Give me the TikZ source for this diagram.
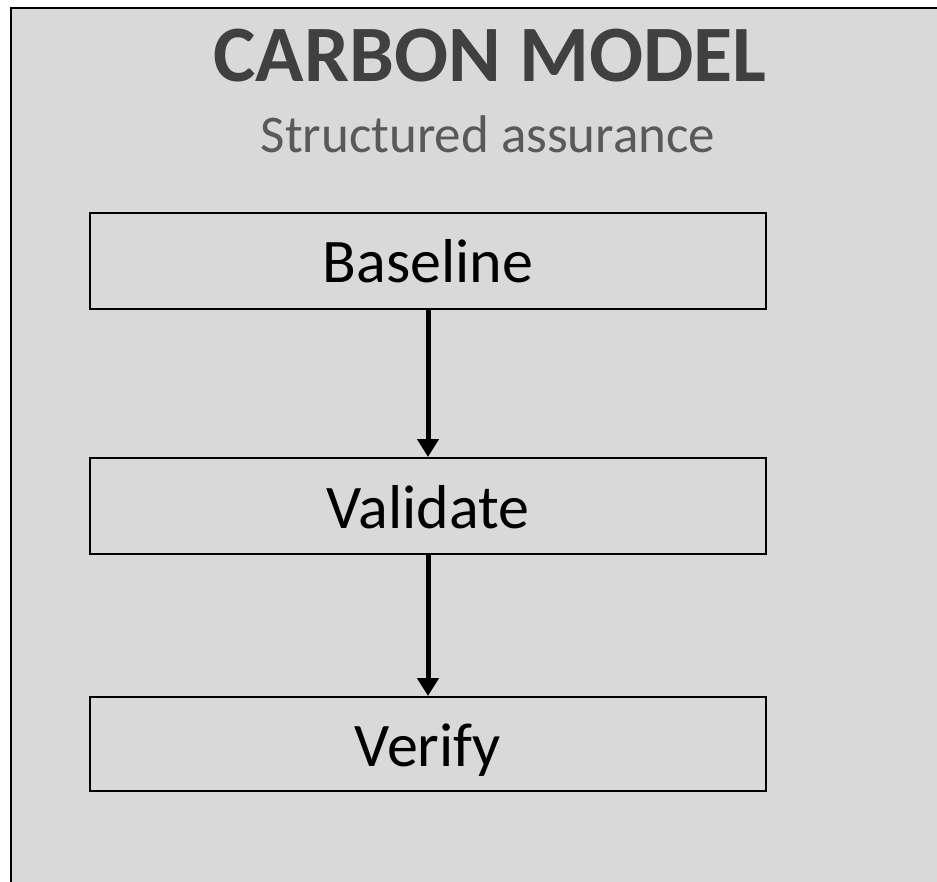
\documentclass[tikz,border=0pt]{standalone}
\usepackage{fontspec}
\setmainfont{Carlito}
\usetikzlibrary{arrows.meta}
\definecolor{bgfill}{HTML}{D9D9D9}
\definecolor{titlecol}{HTML}{404040}
\definecolor{subcol}{HTML}{595959}
\begin{document}
\begin{tikzpicture}[x=1pt,y=-1pt,
  stepbox/.style={draw=black,line width=2pt,fill=bgfill,minimum width=676pt,minimum height=96pt,inner sep=0pt},
  steptext/.style={anchor=base,inner sep=0pt,font=\fontsize{62}{70}\selectfont},
  flow/.style={draw=black,line width=5pt,-{Triangle[length=18pt,width=21pt]}}]
\useasboundingbox (0,0) rectangle (937,882);
\path[fill=white] (0,0) rectangle (937,882);
\node[draw=black,line width=2pt,fill=bgfill,minimum width=1000pt,minimum height=900pt,anchor=north west,inner sep=0pt] (frame) at (10,7) {};
\node[anchor=base,text=titlecol,font=\fontsize{80}{90}\selectfont\bfseries,inner sep=0pt] (title) at (490,82) {CARBON MODEL};
\node[anchor=base,text=subcol,font=\fontsize{53}{60}\selectfont,inner sep=0pt] (sub) at (488,153) {Structured assurance};
\node[stepbox] (b) at (428,261.5) {};
\node[steptext] (bt) at (428,283) {Baseline};
\node[stepbox] (v) at (428,506) {};
\node[steptext] (vt) at (428,528) {Validate};
\node[stepbox,minimum height=94pt] (f) at (428,744) {};
\node[steptext] (ft) at (428,766) {Verify};
\draw[flow] (b.south) -- (v.north);
\draw[flow] (v.south) -- (f.north);
\end{tikzpicture}
\end{document}
